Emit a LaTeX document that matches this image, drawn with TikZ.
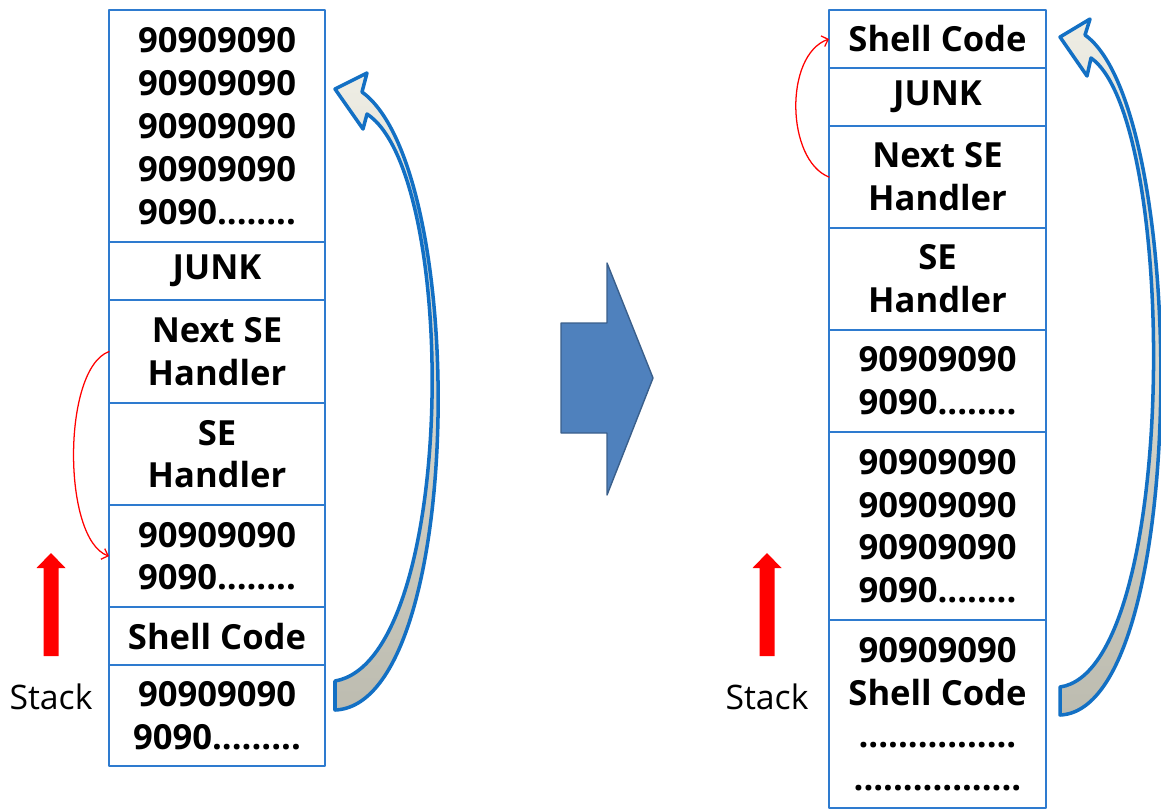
\documentclass[tikz,border=0pt]{standalone}
\usepackage{fontspec}
\setmainfont{Open Sans}
\usetikzlibrary{positioning,arrows.meta}
\definecolor{cellblue}{HTML}{2E7BCF}
\definecolor{arcblue}{HTML}{1370C4}
\definecolor{bigblue}{HTML}{4F81BD}
\definecolor{bigedge}{HTML}{3A5F8B}
\definecolor{bandtop}{HTML}{EEEDE4}
\definecolor{bandbot}{HTML}{BDBCB0}
\begin{document}
\begin{tikzpicture}[x=0.025cm,y=-0.025cm,line join=round,line cap=round]
	\tikzset{cell/.style={draw=cellblue,line width=1.3pt,outer sep=0pt,inner sep=0pt,
			minimum height=#1,align=center,font=\fontsize{24.6}{30.5}\selectfont\bfseries},
		lcell/.style={cell=#1,minimum width=5.4cm},
		rcell/.style={cell=#1,minimum width=5.425cm},
		jump/.style={red,line width=0.9pt,-{Straight Barb[length=4pt,width=8pt]}},
		band/.style={draw=arcblue,line width=2.5pt,top color=bandtop,bottom color=bandbot},
		lbl/.style={font=\fontsize{24}{28}\selectfont}}
	\useasboundingbox (0,0) rectangle (1161,810);
	% stack before the overwrite
	\node[lcell=5.8cm,anchor=north] (lnop) at (217,10) {90909090\\90909090\\90909090\\90909090\\9090........};
	\node[lcell=1.45cm,below=0pt of lnop] (ljunk) {JUNK};
	\node[lcell=2.575cm,below=0pt of ljunk] (lnext) {Next SE\\Handler};
	\node[lcell=2.55cm,below=0pt of lnext] (lseh) {SE\\Handler};
	\node[lcell=2.55cm,below=0pt of lseh] (lpad) {90909090\\9090........};
	\node[lcell=1.45cm,below=0pt of lpad] (lshell) {Shell Code};
	\node[lcell=2.525cm,below=0pt of lshell] (lbot) {90909090\\9090.........};
	% stack after the overwrite
	\node[rcell=1.45cm,anchor=north] (rshell) at (937.5,10) {Shell Code};
	\node[rcell=1.45cm,below=0pt of rshell] (rjunk) {JUNK};
	\node[rcell=2.55cm,below=0pt of rjunk] (rnext) {Next SE\\Handler};
	\node[rcell=2.55cm,below=0pt of rnext] (rseh) {SE\\Handler};
	\node[rcell=2.55cm,below=0pt of rseh] (rpad) {90909090\\9090........};
	\node[rcell=4.7cm,below=0pt of rpad] (rnop) {90909090\\90909090\\90909090\\9090........};
	\node[rcell=4.7cm,below=0pt of rnop] (rbot) {90909090\\Shell Code\\................\\.................};
	% SEH jumps
	\draw[jump] (lnext.west) .. controls +(-47,17) and +(-47,-17) .. (lpad.west);
	\draw[jump] (rnext.west) .. controls +(-43,-17) and +(-45,16) .. (rshell.west);
	% curved block arrows
	\path[band] (335,710) .. controls (465,705) and (470,170) .. (362,92) -- (367,73) -- (335,89)
		-- (363,129) -- (367,114) .. controls (460,175) and (457,660) .. (335,681) -- cycle;
	\path[band] (1060,715) .. controls (1190,710) and (1190,110) .. (1085,35) -- (1090,19) -- (1060,37)
		-- (1087,76) -- (1091,58) .. controls (1179,120) and (1179,670) .. (1060,687) -- cycle;
	% big arrow in the middle
	\draw[fill=bigblue,draw=bigedge,line width=1pt] (561,323) -- (607,323) -- (607,263) -- (653,378)
		-- (607,495) -- (607,433) -- (561,433) -- cycle;
	% stack growth
	\foreach \x/\s in {51/l,767/r}{
		\fill[red] (\x-7.5,656) -- (\x-7.5,568) -- (\x-14.5,568) -- (\x,553) -- (\x+14.5,568)
			-- (\x+7.5,568) -- (\x+7.5,656) -- cycle;
		\node[lbl] (\s stack) at (\x,697) {Stack};
	}
\end{tikzpicture}
\end{document}
